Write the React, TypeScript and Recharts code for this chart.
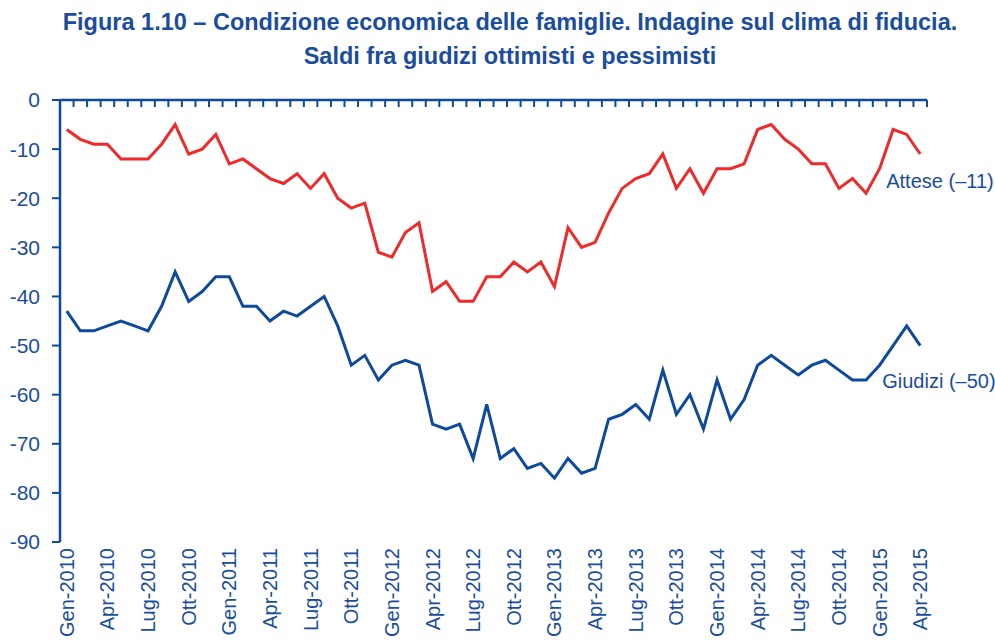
import React from 'react';
import { LineChart, Line, XAxis, YAxis, LabelList } from 'recharts';

const monthNames = ['Gen', 'Feb', 'Mar', 'Apr', 'Mag', 'Giu', 'Lug', 'Ago', 'Set', 'Ott', 'Nov', 'Dic'];
const years = [2010, 2011, 2012, 2013, 2014, 2015];
const categories: string[] = [];
years.forEach((y) => monthNames.forEach((m) => categories.push(`${m}-${y}`)));
categories.length = 64; // Gen-2010 .. Apr-2015

const attese = [
  -6, -8, -9, -9, -12, -12, -12, -9, -5, -11,
  -10, -7, -13, -12, -14, -16, -17, -15, -18, -15,
  -20, -22, -21, -31, -32, -27, -25, -39, -37, -41,
  -41, -36, -36, -33, -35, -33, -38, -26, -30, -29,
  -23, -18, -16, -15, -11, -18, -14, -19, -14, -14,
  -13, -6, -5, -8, -10, -13, -13, -18, -16, -19,
  -14, -6, -7, -11,
];

const giudizi = [
  -43, -47, -47, -46, -45, -46, -47, -42, -35, -41,
  -39, -36, -36, -42, -42, -45, -43, -44, -42, -40,
  -46, -54, -52, -57, -54, -53, -54, -66, -67, -66,
  -73, -62, -73, -71, -75, -74, -77, -73, -76, -75,
  -65, -64, -62, -65, -55, -64, -60, -67, -57, -65,
  -61, -54, -52, -54, -56, -54, -53, -55, -57, -57,
  -54, -50, -46, -50,
];

const yTicks = [0, -10, -20, -30, -40, -50, -60, -70, -80, -90];
const labelTickIdx = categories.map((_, i) => i).filter((i) => i % 3 === 0);
const boundaryTicks = [...categories.map((_, i) => i - 0.5), categories.length - 0.5];

const seriesNames = { attese: 'Attese (–11)', giudizi: 'Giudizi (–50)' };
const titleLines = [
  'Figura 1.10 – Condizione economica delle famiglie. Indagine sul clima di fiducia.',
  'Saldi fra giudizi ottimisti e pessimisti',
];

const data = categories.map((c, i) => ({ i, cat: c, attese: attese[i], giudizi: giudizi[i] }));

const BLUE = '#0e4a9c';
const TEXT_BLUE = '#1a4d9c';
const RED = '#ee2a2a';
const FONT = '"Liberation Sans", Arial, sans-serif';

const XTick = (props: any) => {
  const { x, y, payload } = props;
  return (
    <text
      x={x}
      y={y}
      transform={`rotate(-90, ${x}, ${y})`}
      textAnchor="end"
      dominantBaseline="central"
      fill={TEXT_BLUE}
      fontSize={20}
      fontFamily={FONT}
    >
      {categories[payload.value]}
    </text>
  );
};

const EmptyTick = () => <g />;

const makeEndLabel = (text: string, dx: number, dy: number) => (props: any) => {
  const { x, y, index } = props;
  if (index !== categories.length - 1) return null;
  return (
    <text x={x + dx} y={y + dy} fill={TEXT_BLUE} fontSize={20} fontFamily={FONT}>
      {text}
    </text>
  );
};

export default function App() {
  return (
    <div style={{ position: 'absolute', left: 0, top: 0, width: 995, height: 643, background: '#fff', fontFamily: FONT }}>
      <div
        style={{
          position: 'absolute',
          left: 20,
          top: 5,
          width: 980,
          textAlign: 'center',
          fontWeight: 'bold',
          fontSize: 23.5,
          lineHeight: '34px',
          color: TEXT_BLUE,
        }}
      >
        {titleLines.map((t) => (
          <div key={t}>{t}</div>
        ))}
      </div>
      <div style={{ position: 'absolute', left: 0, top: 0 }}>
        <LineChart width={995} height={643} data={data} margin={{ top: 100, right: 68, left: 0, bottom: 0 }}>
          <YAxis
            domain={[-90, 0]}
            ticks={yTicks}
            interval={0}
            width={60}
            tickSize={8}
            tickMargin={12}
            axisLine={{ stroke: BLUE, strokeWidth: 2.5 }}
            tickLine={{ stroke: BLUE, strokeWidth: 2 }}
            tick={{ fill: TEXT_BLUE, fontSize: 21, fontFamily: FONT }}
          />
          <XAxis
            xAxisId="top"
            orientation="top"
            mirror
            type="number"
            dataKey="i"
            domain={[-0.5, categories.length - 0.5]}
            ticks={boundaryTicks}
            interval={0}
            tick={<EmptyTick />}
            tickSize={7}
            axisLine={{ stroke: BLUE, strokeWidth: 2.5 }}
            tickLine={{ stroke: BLUE, strokeWidth: 2 }}
          />
          <XAxis
            xAxisId="bottom"
            orientation="bottom"
            type="number"
            dataKey="i"
            domain={[-0.5, categories.length - 0.5]}
            ticks={labelTickIdx}
            interval={0}
            height={101}
            axisLine={false}
            tickLine={false}
            tickSize={0}
            tickMargin={6}
            tick={<XTick />}
          />
          <Line
            xAxisId="bottom"
            dataKey="attese"
            name={seriesNames.attese}
            stroke={RED}
            strokeWidth={3}
            dot={false}
            isAnimationActive={false}
          >
            <LabelList dataKey="attese" content={makeEndLabel(seriesNames.attese, -34, 34)} />
          </Line>
          <Line
            xAxisId="bottom"
            dataKey="giudizi"
            name={seriesNames.giudizi}
            stroke={BLUE}
            strokeWidth={3}
            dot={false}
            isAnimationActive={false}
          >
            <LabelList dataKey="giudizi" content={makeEndLabel(seriesNames.giudizi, -38, 42)} />
          </Line>
        </LineChart>
      </div>
    </div>
  );
}
